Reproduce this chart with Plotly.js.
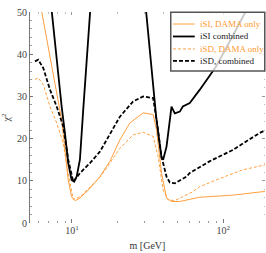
<!DOCTYPE html>
<html>
<head>
<meta charset="utf-8">
<script src="https://cdn.plot.ly/plotly-3.0.1.min.js"></script>
<style>html,body{margin:0;padding:0;background:#fff;}#chart{width:266px;height:253px;}</style>
</head>
<body>
<div id="chart"></div>
<script>
// iSI, DAMA only (orange solid)
const siDamaM = [6.1, 6.31, 6.64, 7.16, 7.93, 8.55, 8.99, 9.45, 9.95, 10.47, 11.29, 13.14, 15.30, 17.81, 20.73, 24.13, 29.54, 34.38, 36.20, 39.06, 42.14, 45.46, 51.57, 69.6, 115.3, 176.5, 190];
const siDamaChi2 = [54, 50.2, 45.8, 39.5, 31.6, 24.5, 17.3, 10.2, 6.2, 5.3, 5.9, 8.2, 11.0, 14.6, 19.7, 23.7, 26.1, 25.7, 22.1, 11.8, 5.9, 5.1, 5.1, 6.1, 6.6, 7.4, 7.5];

// iSI combined (black solid), two branches separated by a gap
const siCombM = [7.22, 7.35, 7.93, 8.55, 8.99, 9.45, 9.95, 10.35, 10.74, 11.29, 11.87, 12.50, 13.14, 13.24, null,
                 30.54, 30.91, 33.35, 33.86, 35.98, 39.06, 40.03, 42.14, 44.30, 45.46, 47.79, 51.57, 54.0, 60.0, 69.9, 89.5, 115.3, 141.2, 144.9];
const siCombChi2 = [53, 50.2, 38.7, 27.6, 21.3, 14.2, 10.2, 9.8, 11.0, 15.0, 26.8, 38.7, 49.8, 51, null,
                    52, 50, 37.1, 34.0, 25.2, 15.4, 15.0, 18.1, 24.5, 27.6, 26.0, 26.4, 27.6, 28.4, 31.6, 37.1, 44.3, 50, 51];

// iSD, DAMA only (orange dashed)
const sdDamaM = [5.70, 5.99, 6.47, 7.16, 7.93, 8.76, 9.45, 10.2, 11.29, 13.14, 15.30, 17.81, 20.73, 25.37, 29.54, 34.38, 37.10, 40.03, 43.17, 47.79, 57.10, 62.8, 69.9, 89.5, 134.3, 190];
const sdDamaChi2 = [34.0, 34.4, 32.8, 27.6, 23.7, 18.9, 11.8, 5.6, 6.2, 8.5, 10.8, 14.2, 17.7, 20.9, 21.5, 20.5, 15.7, 7.8, 5.5, 5.3, 6.6, 7.4, 8.6, 10.2, 12.6, 13.8];

// iSD, combined (black dashed)
const sdCombM = [5.70, 5.99, 6.47, 7.16, 7.93, 8.76, 9.45, 10.2, 11.29, 13.14, 15.30, 17.81, 20.73, 25.37, 29.54, 34.38, 36.20, 39.06, 42.14, 44.30, 47.79, 57.10, 59.76, 80.9, 115.3, 173.0, 190];
const sdCombChi2 = [38.3, 38.7, 36.7, 31.6, 27.6, 22.9, 15.0, 9.8, 11.8, 14.2, 16.9, 20.9, 25.2, 28.8, 30.0, 29.6, 24.5, 15.7, 11.0, 9.6, 9.4, 11.0, 11.8, 14.6, 17.3, 21.3, 22.0];

const seriesNames = ['iSI, DAMA only', 'iSI combined', 'iSD, DAMA only', 'iSD, combined'];
const xTickVals = [10, 100];
const xTickText = ['10<sup>1</sup>', '10<sup>2</sup>'];
const xMinorVals = [6, 7, 8, 9, 20, 30, 40, 50, 60, 70, 80, 90, 200];

const orange = '#ffa040';
const orangeText = '#ff9a30';
const serif = 'Liberation Serif, Times New Roman, serif';

const styles = [
  {color: orange, width: 1, dash: 'solid', text: orangeText},
  {color: '#000', width: 1.8, dash: 'solid', text: '#222'},
  {color: orange, width: 1, dash: '3px,2px', text: orangeText},
  {color: '#000', width: 1.8, dash: '4px,2px', text: '#222'}
];

const traces = [
  {x: siDamaM, y: siDamaChi2, mode: 'lines', name: seriesNames[0], line: {color: styles[0].color, width: styles[0].width}},
  {x: siCombM, y: siCombChi2, mode: 'lines', name: seriesNames[1], connectgaps: false, line: {color: styles[1].color, width: styles[1].width}},
  {x: sdDamaM, y: sdDamaChi2, mode: 'lines', name: seriesNames[2], line: {color: styles[2].color, width: styles[2].width, dash: styles[2].dash}},
  {x: sdCombM, y: sdCombChi2, mode: 'lines', name: seriesNames[3], line: {color: styles[3].color, width: styles[3].width, dash: styles[3].dash}},
  {x: [null], y: [null], xaxis: 'x2', yaxis: 'y2', showlegend: false, hoverinfo: 'skip'}
];

// hand-drawn legend box (paper coordinates)
const legX0 = 0.599, legX1 = 0.999, legY0 = 0.720, legY1 = 0.999;
const rowY = [0.943, 0.884, 0.825, 0.768];
const sampleX0 = 0.6085, sampleX1 = 0.701, textX = 0.716;

const shapes = [{type: 'rect', xref: 'paper', yref: 'paper', x0: legX0, x1: legX1, y0: legY0, y1: legY1,
                 fillcolor: 'rgba(255,255,255,0.78)', line: {color: '#555', width: 1.5}, layer: 'above'}];
const annotations = [];
seriesNames.forEach((n, i) => {
  shapes.push({type: 'line', xref: 'paper', yref: 'paper', x0: sampleX0, x1: sampleX1, y0: rowY[i], y1: rowY[i],
               line: {color: styles[i].color, width: styles[i].width, dash: styles[i].dash}, layer: 'above'});
  annotations.push({xref: 'paper', yref: 'paper', x: textX, y: rowY[i], xanchor: 'left', yanchor: 'middle',
                    text: n, showarrow: false, font: {family: serif, size: 9, color: styles[i].text}});
});

const layout = {
  width: 266, height: 253,
  margin: {l: 30, r: 1, t: 12, b: 30},
  paper_bgcolor: '#fff', plot_bgcolor: '#fff',
  font: {family: serif, size: 10, color: '#444'},
  showlegend: false,
  shapes: shapes,
  annotations: annotations,
  xaxis: {type: 'log', range: [0.723, 2.275], showgrid: false, zeroline: false, showline: false,
          tickvals: xTickVals, ticktext: xTickText, ticks: 'inside', ticklen: 4, tickcolor: '#777',
          tickfont: {family: serif, size: 10, color: '#444'},
          minor: {tickvals: xMinorVals, ticks: 'inside', ticklen: 2, tickcolor: '#999'},
          title: {text: 'm [GeV]', font: {family: serif, size: 10, color: '#333'}, standoff: 6}},
  yaxis: {range: [0, 50], showgrid: false, zeroline: false, showline: true, linecolor: '#777', linewidth: 1,
          dtick: 10, ticks: 'inside', ticklen: 3, tickcolor: '#777',
          tickfont: {family: serif, size: 10, color: '#444'},
          minor: {dtick: 2, ticks: 'inside', ticklen: 1.5, tickcolor: '#999'},
          title: {text: 'χ<sup>2</sup>', font: {family: serif, size: 10, color: '#333'}, standoff: 6}},
  xaxis2: {type: 'log', overlaying: 'x', side: 'top', range: [0.723, 2.275], showgrid: false, zeroline: false,
           showline: false, showticklabels: false, tickvals: xTickVals, ticks: 'inside', ticklen: 3, tickcolor: '#999',
           minor: {tickvals: xMinorVals, ticks: 'inside', ticklen: 2, tickcolor: '#bbb'}},
  yaxis2: {overlaying: 'y', side: 'right', range: [0, 50], showgrid: false, zeroline: false,
           showline: false, showticklabels: false, dtick: 10, ticks: 'inside', ticklen: 3, tickcolor: '#999',
           minor: {dtick: 2, ticks: 'inside', ticklen: 1.5, tickcolor: '#bbb'}}
};

Plotly.newPlot('chart', traces, layout, {displayModeBar: false, staticPlot: true});
</script>
</body>
</html>
